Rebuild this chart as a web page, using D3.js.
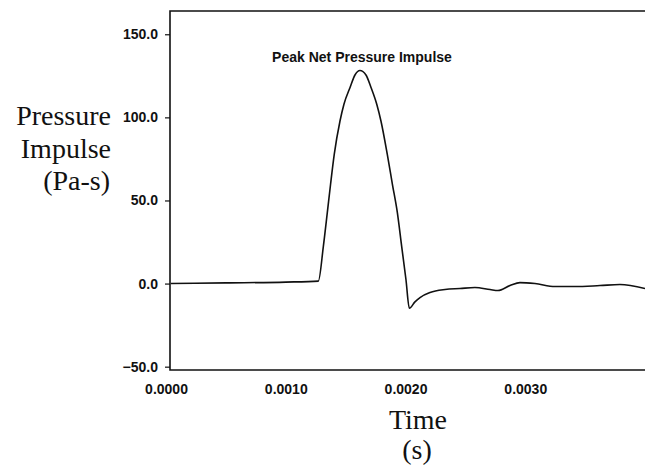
<!DOCTYPE html>
<html>
<head>
<meta charset="utf-8">
<script src="https://cdn.jsdelivr.net/npm/d3@7"></script>
<style>
  body { margin: 0; background: #fff; }
  .tick text { font-family: "Liberation Sans", Arial, sans-serif; font-weight: bold; font-size: 14px; fill: #111; }
  .ylab, .xlab { font-family: "Liberation Serif", "DejaVu Serif", "Times New Roman", serif; font-size: 28px; fill: #111; }
  .note { font-family: "Liberation Sans", Arial, sans-serif; font-weight: bold; font-size: 14px; fill: #111; }
</style>
</head>
<body>
<div id="chart"></div>
<script>

// time (s) and net pressure impulse (Pa-s)
var times = [0.00004, 0.0005, 0.0010, 0.001272, 0.001314, 0.001347, 0.001374, 0.001405, 0.001453,
  0.001486, 0.001537, 0.001578, 0.00162, 0.00167, 0.001712, 0.00176, 0.001795, 0.001848,
  0.001891, 0.001932, 0.001968, 0.002004, 0.002032, 0.002079, 0.002121, 0.002205, 0.00233,
  0.002455, 0.00258, 0.002706, 0.002772, 0.002873, 0.002956, 0.003081, 0.003248, 0.003415,
  0.003624, 0.003791, 0.004];
var impulse = [0, 0.4, 0.9, 1.5, 22.4, 42.7, 59.6, 77.7, 97.8,
  107.9, 118, 125.5, 128.2, 125.5, 118, 107.9, 97.8, 77.7,
  59.6, 42.7, 22.4, 2.3, -14.8, -11, -8.4, -5.4, -3.6,
  -3, -2.4, -3.6, -4.2, -1.2, 0.6, 0, -1.8, -1.8,
  -1.2, -0.6, -3];

var yTicks = [-50, 0, 50, 100, 150];
var xTicks = [0, 0.001, 0.002, 0.003];

var data = times.map(function(t, i) { return { t: t, v: impulse[i] }; });

var W = 645, H = 472;
var frame = { left: 170, right: 645, top: 11, bottom: 370 };

var svg = d3.select("#chart")
  .append("svg")
  .attr("width", W)
  .attr("height", H);

var xScale = d3.scaleLinear()
  .domain([0, 0.004])
  .range([166, 645]);

var yScale = d3.scaleLinear()
  .domain([-52, 164])
  .range([frame.bottom, frame.top]);

// plot frame (left, top, bottom)
svg.append("path")
  .attr("d", "M" + frame.right + "," + frame.top + "H" + frame.left + "V" + frame.bottom + "H" + frame.right)
  .attr("fill", "none")
  .attr("stroke", "#111")
  .attr("stroke-width", 1.6);

var yAxis = d3.axisLeft(yScale)
  .tickValues(yTicks)
  .tickFormat(d3.format(".1f"))
  .tickSize(5)
  .tickSizeOuter(0)
  .tickPadding(7);

svg.append("g")
  .attr("transform", "translate(" + frame.left + ",0)")
  .call(yAxis)
  .call(function(g) { g.select(".domain").remove(); })
  .call(function(g) { g.selectAll(".tick line").attr("stroke", "#111").attr("stroke-width", 1.2); });

var xAxis = d3.axisBottom(xScale)
  .tickValues(xTicks)
  .tickFormat(d3.format(".4f"))
  .tickSize(0)
  .tickPadding(14);

svg.append("g")
  .attr("transform", "translate(0," + frame.bottom + ")")
  .call(xAxis)
  .call(function(g) { g.select(".domain").remove(); });

var line = d3.line()
  .x(function(d) { return xScale(d.t); })
  .y(function(d) { return yScale(d.v); })
  .curve(d3.curveMonotoneX);

svg.append("path")
  .datum(data)
  .attr("d", line)
  .attr("fill", "none")
  .attr("stroke", "#111")
  .attr("stroke-width", 1.6);

svg.append("text")
  .attr("class", "note")
  .attr("x", 362)
  .attr("y", 62)
  .style("text-anchor", "middle")
  .text("Peak Net Pressure Impulse");

var ylab = svg.append("text")
  .attr("class", "ylab")
  .style("text-anchor", "end");
ylab.append("tspan").attr("x", 111).attr("y", 125).text("Pressure");
ylab.append("tspan").attr("x", 111).attr("y", 158).text("Impulse");
ylab.append("tspan").attr("x", 110).attr("y", 190).text("(Pa-s)");

var xlab = svg.append("text")
  .attr("class", "xlab")
  .style("text-anchor", "middle");
xlab.append("tspan").attr("x", 418).attr("y", 429).text("Time");
xlab.append("tspan").attr("x", 417).attr("y", 459).text("(s)");

</script>
</body>
</html>
